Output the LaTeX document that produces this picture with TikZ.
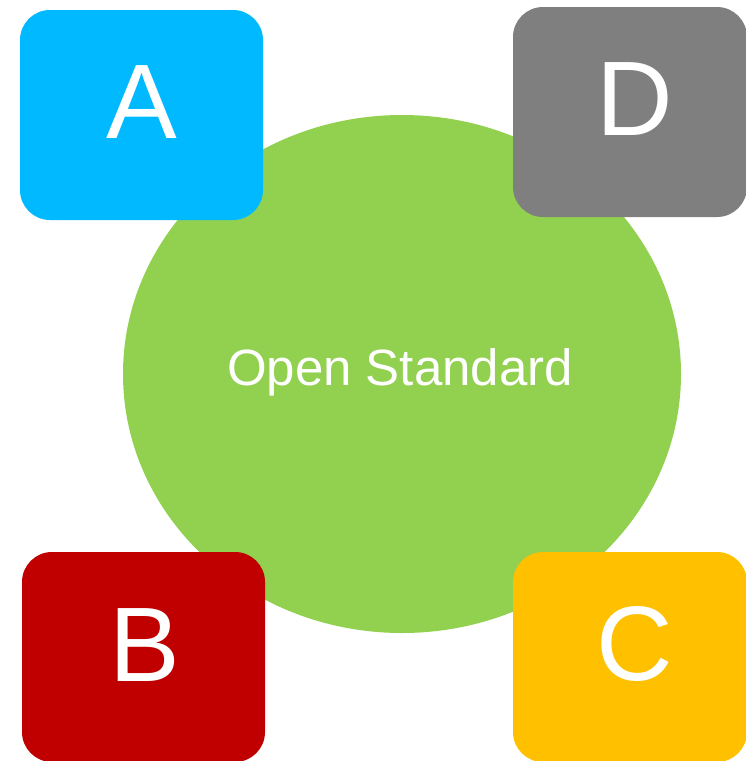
\documentclass[tikz,border=0pt]{standalone}
\usepackage{fontspec}
\setmainfont{Liberation Sans}
\usetikzlibrary{shapes.geometric}
\definecolor{cgreen}{HTML}{92D050}
\definecolor{cblue}{HTML}{00B9FF}
\definecolor{cgray}{HTML}{7F7F7F}
\definecolor{cred}{HTML}{C00000}
\definecolor{cyellow}{HTML}{FFC000}
\tikzset{
  card/.style={draw=none, rounded corners=30pt, inner sep=0pt},
  bigletter/.style={text=white, font=\fontsize{106}{110}\selectfont, inner sep=0pt, anchor=base},
}
\begin{document}
\begin{tikzpicture}[x=1pt,y=-1pt]
\useasboundingbox (0,0) rectangle (746,761);
\node[ellipse, fill=cgreen, minimum width=558pt, minimum height=518pt, inner sep=0pt, draw=none] (hub) at (402,374) {};
\node[text=white, font=\fontsize{51}{56}\selectfont, inner sep=0pt, anchor=base] (lbl) at (400,385) {Open Standard};
\node[card, fill=cblue, minimum width=243pt, minimum height=210pt] (boxA) at (141.5,115) {};
\node[card, fill=cgray, minimum width=234pt, minimum height=210pt] (boxD) at (630,112) {};
\node[card, fill=cred, minimum width=243pt, minimum height=210pt] (boxB) at (143.5,657) {};
\node[card, fill=cyellow, minimum width=234pt, minimum height=210pt] (boxC) at (630,657) {};
\node[bigletter] (tA) at (142,138) {A};
\node[bigletter] (tD) at (635,135) {D};
\node[bigletter] (tB) at (145,681) {B};
\node[bigletter] (tC) at (635,680) {C};
\end{tikzpicture}
\end{document}
